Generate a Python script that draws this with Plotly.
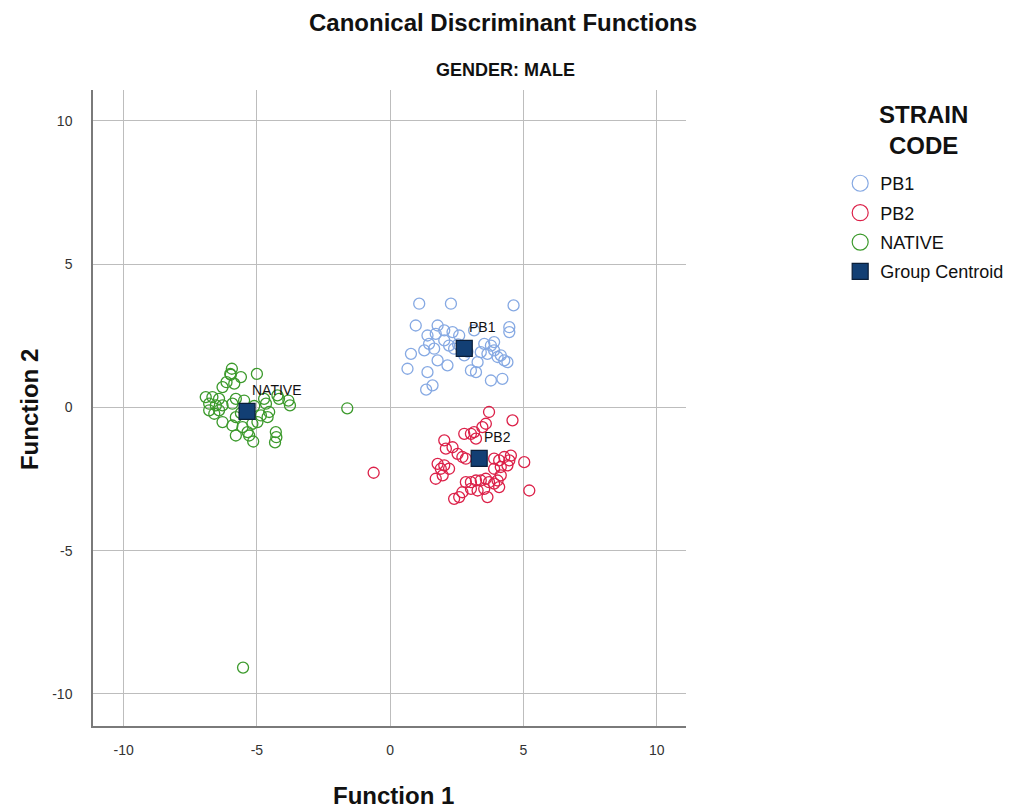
import plotly.graph_objects as go

# ---- data ----
pb1_x = [1.09, 2.28, 4.63, 0.96, 1.78, 1.40, 1.71, 2.03, 2.34, 2.59, 3.15, 3.53, 3.78, 3.90, 4.47, 4.47,
         1.46, 1.65, 2.03, 2.21, 2.40, 3.40, 3.65, 3.90, 4.03, 4.15, 4.28, 4.40, 0.78, 1.28, 1.78, 2.15,
         3.03, 3.22, 0.65, 1.40, 1.59, 3.78, 4.21, 2.78, 3.28, 1.35, 2.55, 2.90]
pb1_y = [3.62, 3.62, 3.56, 2.86, 2.86, 2.51, 2.57, 2.69, 2.63, 2.51, 2.69, 2.22, 2.16, 2.28, 2.80, 2.63,
         2.22, 2.05, 2.34, 2.16, 2.05, 1.93, 1.87, 1.99, 1.76, 1.82, 1.64, 1.58, 1.87, 1.99, 1.64, 1.47,
         1.29, 1.23, 1.35, 1.23, 0.77, 0.94, 1.00, 1.82, 1.58, 0.62, 2.20, 1.95]

pb2_x = [3.71, 4.59, 3.59, 3.46, 3.15, 3.03, 2.78, 3.22, 2.03, 2.09, 2.34, 2.53, 2.71, 2.84, 1.78, 2.03,
         1.90, 1.71, 1.97, 2.21, 3.90, 4.09, 4.28, 4.47, 4.53, 5.03, 3.90, 4.15, 4.40, 2.84, 3.03, 3.22,
         3.40, 3.59, 3.71, 3.90, 4.09, 4.03, 3.53, 3.28, 3.03, 2.71, 2.40, 2.59, 3.65, 5.22, 4.15, -0.62]
pb2_y = [-0.16, -0.45, -0.57, -0.69, -0.86, -0.92, -0.92, -1.09, -1.15, -1.44, -1.39, -1.62, -1.73, -1.79,
         -1.97, -2.02, -2.14, -2.49, -2.37, -2.14, -1.79, -1.85, -1.73, -1.85, -1.68, -1.91, -2.14, -2.08,
         -2.02, -2.61, -2.61, -2.55, -2.55, -2.49, -2.61, -2.66, -2.78, -2.55, -2.84, -2.90, -2.84, -2.96,
         -3.19, -3.13, -3.13, -2.90, -2.37, -2.28]

native_x = [-5.94, -5.98, -5.60, -6.00, -5.00, -6.14, -6.29, -5.85, -6.92, -6.67, -6.42, -6.79, -6.54,
            -6.29, -5.92, -5.79, -4.73, -4.66, -4.23, -4.17, -3.82, -3.76, -4.54, -4.85, -4.60, -6.29,
            -5.79, -5.92, -5.54, -5.17, -4.98, -5.35, -5.79, -5.29, -4.29, -4.27, -6.60, -6.42, -6.79,
            -5.14, -4.32, -5.48, -5.10, -5.60, -1.61, -5.52]
native_y = [1.35, 1.14, 1.06, 1.17, 1.17, 0.88, 0.71, 0.83, 0.36, 0.36, 0.30, 0.13, 0.07, 0.07, 0.13,
            0.30, 0.30, 0.13, 0.42, 0.30, 0.24, 0.07, -0.16, -0.28, -0.34, -0.51, -0.34, -0.63, -0.69,
            -0.57, -0.51, -0.86, -0.98, -0.98, -0.86, -1.04, -0.22, -0.10, -0.10, -1.19, -1.22, 0.24,
            0.05, -0.20, -0.03, -9.08]

centroid_names = ["PB1", "PB2", "NATIVE"]
centroid_x = [2.78, 3.34, -5.37]
centroid_y = [2.06, -1.78, -0.14]

x_ticks = [-10, -5, 0, 5, 10]
y_ticks = [-10, -5, 0, 5, 10]

FONT = "Arial, Liberation Sans, sans-serif"
C_PB1 = "#86a9e3"
C_PB2 = "#dc2149"
C_NAT = "#3c9a2c"
C_CEN = "#123f74"

fig = go.Figure()

def group(x, y, name, color):
    # data points
    fig.add_trace(go.Scatter(
        x=x, y=y, mode="markers", name=name, legendgroup=name, showlegend=False,
        marker=dict(symbol="circle-open", size=11, color=color, line=dict(width=1.3, color=color)),
    ))
    # legend swatch (larger symbol, as in the reference legend)
    fig.add_trace(go.Scatter(
        x=[None], y=[None], mode="markers", name=name, legendgroup=name,
        marker=dict(symbol="circle-open", size=17, color=color, line=dict(width=1.2, color=color)),
    ))

group(pb1_x, pb1_y, "PB1", C_PB1)
group(pb2_x, pb2_y, "PB2", C_PB2)
group(native_x, native_y, "NATIVE", C_NAT)

fig.add_trace(go.Scatter(
    x=centroid_x, y=centroid_y, mode="markers", name="Group Centroid", legendgroup="cen",
    marker=dict(symbol="square", size=16, color=C_CEN, line=dict(width=1.2, color="#0a1e38")),
))

for n, cx, cy in zip(centroid_names, centroid_x, centroid_y):
    fig.add_annotation(x=cx, y=cy, xref="x", yref="y", text=n, showarrow=False,
                       xanchor="left", yanchor="bottom", xshift=3, yshift=11,
                       font=dict(family=FONT, size=14, color="#111"))

# titles
fig.add_annotation(x=0.691, y=1, xref="paper", yref="paper", yshift=68,
                   text="<b>Canonical Discriminant Functions</b>",
                   showarrow=False, font=dict(family=FONT, size=24, color="#111"),
                   xanchor="center", yanchor="middle")
fig.add_annotation(x=0.695, y=1, xref="paper", yref="paper", yshift=20, text="<b>GENDER: MALE</b>",
                   showarrow=False, font=dict(family=FONT, size=18, color="#111"),
                   xanchor="center", yanchor="middle")
fig.add_annotation(x=1.40, y=1, xref="paper", yref="paper", yshift=-40, text="<b>STRAIN<br>CODE</b>",
                   showarrow=False, font=dict(family=FONT, size=24, color="#111"),
                   xanchor="center", yanchor="middle", align="center")
fig.add_annotation(x=0.506, y=0, xref="paper", yref="paper", yshift=-69, text="<b>Function 1</b>",
                   showarrow=False, font=dict(family=FONT, size=24, color="#111"),
                   xanchor="center", yanchor="middle")
fig.add_annotation(x=-0.106, y=0.497, xref="paper", yref="paper", text="<b>Function 2</b>", textangle=-90,
                   showarrow=False, font=dict(family=FONT, size=24, color="#111"),
                   xanchor="center", yanchor="middle")

fig.update_layout(
    width=1013, height=801,
    margin=dict(l=85, r=335, t=82, b=83),
    paper_bgcolor="white", plot_bgcolor="white",
    font=dict(family=FONT, color="#222"),
    showlegend=True,
    legend=dict(x=1.26, y=0.882, xanchor="left", yanchor="top",
                font=dict(family=FONT, size=18, color="#111"),
                itemwidth=30, tracegroupgap=3, bgcolor="rgba(0,0,0,0)"),
    xaxis=dict(range=[-11.15, 11.1], tickvals=x_ticks, ticktext=[str(v) for v in x_ticks],
               showgrid=True, gridcolor="#bdbdbd", gridwidth=1, zeroline=False,
               showline=True, linecolor="#7a7a7a", linewidth=1.5, mirror=False,
               tickfont=dict(family=FONT, size=14, color="#333"), ticks="", ticklabelstandoff=10,
               automargin=False),
    yaxis=dict(range=[-11.12, 11.08], tickvals=y_ticks, ticktext=[str(v) for v in y_ticks],
               showgrid=True, gridcolor="#bdbdbd", gridwidth=1, zeroline=False,
               showline=True, linecolor="#7a7a7a", linewidth=1.5, mirror=False,
               tickfont=dict(family=FONT, size=14, color="#333"), ticks="", ticklabelstandoff=16,
               automargin=False),
)

fig.write_html("out.html")
